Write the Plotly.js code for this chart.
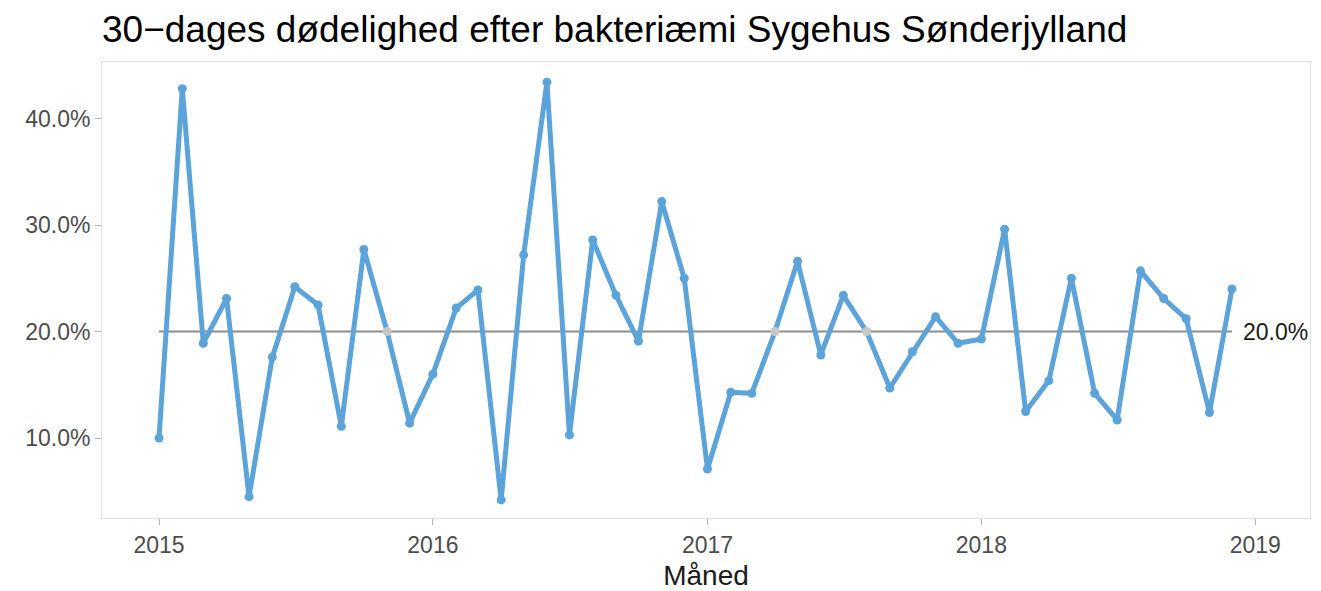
<!DOCTYPE html>
<html>
<head>
<meta charset="utf-8">
<script src="https://cdn.plot.ly/plotly-3.0.1.min.js"></script>
<style>html,body{margin:0;padding:0;background:#fff;}#chart{width:1321px;height:591px;}</style>
</head>
<body>
<div id="chart"></div>
<script>
const months = [
  "2015-01-01","2015-02-01","2015-03-01","2015-04-01","2015-05-01","2015-06-01",
  "2015-07-01","2015-08-01","2015-09-01","2015-10-01","2015-11-01","2015-12-01",
  "2016-01-01","2016-02-01","2016-03-01","2016-04-01","2016-05-01","2016-06-01",
  "2016-07-01","2016-08-01","2016-09-01","2016-10-01","2016-11-01","2016-12-01",
  "2017-01-01","2017-02-01","2017-03-01","2017-04-01","2017-05-01","2017-06-01",
  "2017-07-01","2017-08-01","2017-09-01","2017-10-01","2017-11-01","2017-12-01",
  "2018-01-01","2018-02-01","2018-03-01","2018-04-01","2018-05-01","2018-06-01",
  "2018-07-01","2018-08-01","2018-09-01","2018-10-01","2018-11-01","2018-12-01"
];
const mortality = [
  10.0, 42.8, 18.9, 23.1, 4.5, 17.6, 24.2, 22.5, 11.1, 27.7, 20.0, 11.4,
  16.0, 22.2, 23.9, 4.2, 27.2, 43.4, 10.3, 28.6, 23.4, 19.1, 32.2, 25.0,
  7.1, 14.3, 14.2, 20.0, 26.6, 17.8, 23.4, 20.0, 14.7, 18.1, 21.4, 18.9,
  19.3, 29.6, 12.5, 15.4, 25.0, 14.2, 11.7, 25.7, 23.1, 21.2, 12.4, 24.0
];
const centre = 20.0;
const yTicks = [10, 20, 30, 40];
const yTickLabels = ["10.0%", "20.0%", "30.0%", "40.0%"];
const xTicks = ["2015-01-01","2016-01-01","2017-01-01","2018-01-01","2019-01-01"];
const xTickLabels = ["2015","2016","2017","2018","2019"];

const lineColor = "#5ba3d9";
const markerColors = mortality.map(v => v === centre ? "#c8c8c8" : lineColor);

const traces = [
  {
    x: [months[0], months[months.length - 1]],
    y: [centre, centre],
    mode: "lines",
    line: {color: "#8c8c8c", width: 2},
    hoverinfo: "skip",
    showlegend: false
  },
  {
    x: months,
    y: mortality,
    mode: "lines+markers",
    line: {color: lineColor, width: 5},
    marker: {color: markerColors, size: 9},
    showlegend: false
  }
];

const layout = {
  width: 1321, height: 591,
  margin: {l: 102, r: 11, t: 62, b: 73},
  paper_bgcolor: "#ffffff",
  plot_bgcolor: "#ffffff",
  font: {family: "Liberation Sans, Arial, sans-serif", color: "#4d4d4d"},
  title: {
    text: "30\u2212dages dødelighed efter bakteriæmi Sygehus Sønderjylland",
    font: {size: 37, color: "#000000", family: "Liberation Sans, Arial, sans-serif"},
    x: 0, xref: "paper", xanchor: "left",
    y: 1 - 29/591, yref: "container", yanchor: "middle"
  },
  xaxis: {
    type: "date",
    range: ["2014-10-17", "2019-03-15"],
    tickvals: xTicks, ticktext: xTickLabels,
    showgrid: false, zeroline: false,
    showline: true, mirror: true, linecolor: "#e3e3e3", linewidth: 1,
    ticks: "outside", ticklen: 6, tickcolor: "#b3b3b3", tickwidth: 1,
    tickfont: {size: 23, color: "#4d4d4d"},
    title: {text: "Måned", font: {size: 28, color: "#1a1a1a"}, standoff: 9}
  },
  yaxis: {
    range: [2.5, 45.3],
    tickvals: yTicks, ticktext: yTickLabels,
    showgrid: false, zeroline: false,
    showline: true, mirror: true, linecolor: "#e3e3e3", linewidth: 1,
    ticks: "outside", ticklen: 6, tickcolor: "#b3b3b3", tickwidth: 1,
    tickfont: {size: 23, color: "#4d4d4d"}
  },
  annotations: [{
    x: months[months.length - 1], y: centre,
    xref: "x", yref: "y",
    text: "20.0%", showarrow: false,
    xanchor: "left", yanchor: "middle", xshift: 9,
    font: {size: 23, color: "#1a1a1a"}
  }]
};

Plotly.newPlot("chart", traces, layout, {displayModeBar: false, staticPlot: true});
</script>
</body>
</html>
